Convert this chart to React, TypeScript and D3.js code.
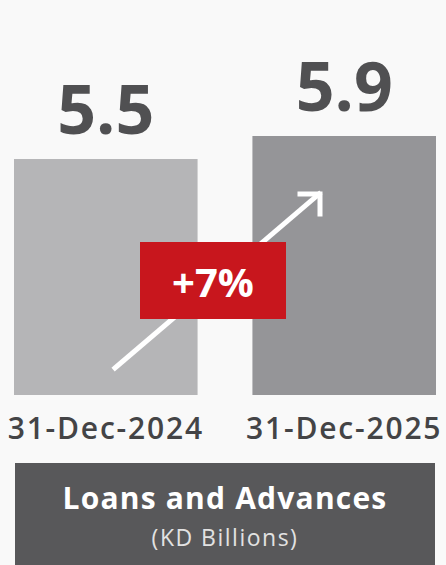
import React, { useEffect, useRef } from 'react';
import * as d3 from 'd3';

const categories = ['31-Dec-2024', '31-Dec-2025'];
const values = [5.5, 5.9];
const valueLabels = ['5.5', '5.9'];
const changeLabel = '+7%';
const title = 'Loans and Advances';
const subtitle = '(KD Billions)';

export default () => {
  const svgRef = useRef<SVGSVGElement>(null);
  const width = 446;
  const height = 565;

  useEffect(() => {
    if (!svgRef.current) return;
    const svg = d3.select(svgRef.current);
    svg.selectAll('*').remove();

    const font = '"Open Sans", "DejaVu Sans", sans-serif';
    const baseline = 395;

    svg.append('rect')
      .attr('width', width)
      .attr('height', height)
      .attr('fill', '#f9f9f9');

    const x = d3.scaleBand<string>()
      .domain(categories)
      .range([14, 436])
      .paddingInner(0.23)
      .paddingOuter(0);

    // truncated value axis, like the infographic
    const y = d3.scaleLinear()
      .domain([1.4, 5.9])
      .range([baseline, 136]);

    const barColors = ['#b5b5b7', '#959598'];

    svg.append('g')
      .selectAll('rect')
      .data(values)
      .enter()
      .append('rect')
      .attr('x', (_, i) => x(categories[i]) as number)
      .attr('y', d => y(d))
      .attr('width', x.bandwidth())
      .attr('height', d => baseline - y(d))
      .attr('fill', (_, i) => barColors[i]);

    svg.append('g')
      .selectAll('text')
      .data(values)
      .enter()
      .append('text')
      .text((_, i) => valueLabels[i])
      .attr('x', (_, i) => (x(categories[i]) as number) + x.bandwidth() / 2)
      .attr('y', d => y(d) - 25)
      .attr('text-anchor', 'middle')
      .attr('style', `fill: #505052; font-family: ${font}; font-size: 68px; font-weight: 700;`);

    svg.append('g')
      .selectAll('text')
      .data(categories)
      .enter()
      .append('text')
      .text(d => d)
      .attr('x', d => (x(d) as number) + x.bandwidth() / 2)
      .attr('y', 439)
      .attr('text-anchor', 'middle')
      .attr('style', `fill: #444446; font-family: ${font}; font-size: 30px; font-weight: 600; letter-spacing: 1.8px;`);

    // growth arrow
    const arrow = svg.append('g')
      .attr('stroke', '#ffffff')
      .attr('stroke-width', 5)
      .attr('stroke-linecap', 'square')
      .attr('fill', 'none');
    arrow.append('line')
      .attr('x1', 115).attr('y1', 368)
      .attr('x2', 319).attr('y2', 194);
    arrow.append('path')
      .attr('d', 'M300,194 L320,194 L320,214')
      .attr('stroke-linejoin', 'miter');

    svg.append('rect')
      .attr('x', 140)
      .attr('y', 242)
      .attr('width', 146)
      .attr('height', 77)
      .attr('fill', '#c8161d');
    svg.append('text')
      .text(changeLabel)
      .attr('x', 213)
      .attr('y', 297)
      .attr('text-anchor', 'middle')
      .attr('style', `fill: #ffffff; font-family: ${font}; font-size: 40px; font-weight: 700;`);

    svg.append('rect')
      .attr('x', 15)
      .attr('y', 463)
      .attr('width', 420)
      .attr('height', 110)
      .attr('fill', '#58585a');
    svg.append('text')
      .text(title)
      .attr('x', 225)
      .attr('y', 509)
      .attr('text-anchor', 'middle')
      .attr('style', `fill: #ffffff; font-family: ${font}; font-size: 30px; font-weight: 700; letter-spacing: 1.2px;`);
    svg.append('text')
      .text(subtitle)
      .attr('x', 225)
      .attr('y', 546)
      .attr('text-anchor', 'middle')
      .attr('style', `fill: #e2e2e2; font-family: ${font}; font-size: 23px; font-weight: 400; letter-spacing: 1.5px;`);
  }, []);

  return (
    <div style={{ position: 'fixed', left: 0, top: 0, width, height }}>
      <svg ref={svgRef} width={width} height={height} style={{ display: 'block' }} />
    </div>
  );
};
